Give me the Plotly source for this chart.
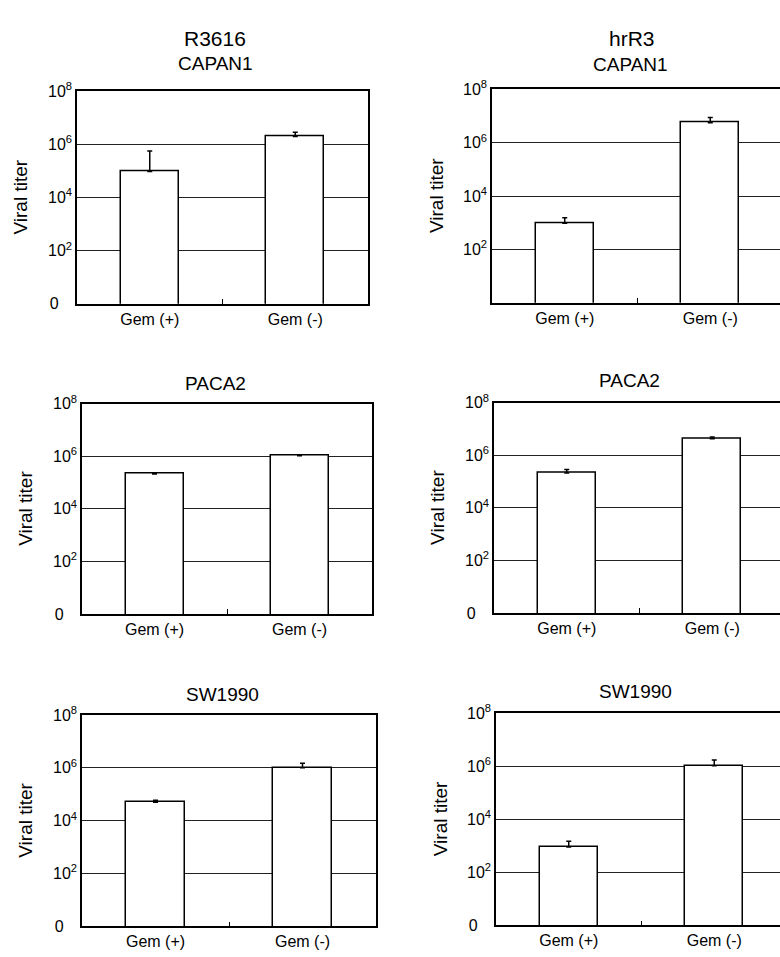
import plotly.graph_objects as go

# ---------------- data ----------------
categories = ["Gem (+)", "Gem (-)"]
virus_names = ["R3616", "hrR3"]
cell_lines = ["CAPAN1", "PACA2", "SW1990"]

ytick_vals = [1, 1e2, 1e4, 1e6, 1e8]
ytick_text = ["0\u00a0\u00a0\u00a0", "10<sup>2</sup>", "10<sup>4</sup>", "10<sup>6</sup>", "10<sup>8</sup>"]
ytick_text_nozero = ["", "10<sup>2</sup>", "10<sup>4</sup>", "10<sup>6</sup>", "10<sup>8</sup>"]

# R3616 (left column)
r3616_capan1 = [9.5e4, 2.0e6]
r3616_capan1_err = [4.75e5, 0.9e6]
r3616_paca2 = [2.1e5, 1.05e6]
r3616_paca2_err = [0.2e5, 0.0]
r3616_sw1990 = [5.0e4, 1.0e6]
r3616_sw1990_err = [1.0e4, 0.5e6]

# hrR3 (right column)
hrr3_capan1 = [9.5e2, 5.6e6]
hrr3_capan1_err = [6.0e2, 3.1e6]
hrr3_paca2 = [2.1e5, 4.2e6]
hrr3_paca2_err = [0.8e5, 0.7e6]
hrr3_sw1990 = [9.0e2, 1.03e6]
hrr3_sw1990_err = [6.0e2, 0.67e6]

# ---------------- layout (pixels) ----------------
W, H = 780, 957
# (left, right, top, bottom) plot boxes in pixels
boxes = [
    (77, 368, 82, 299),    # R3616 CAPAN1
    (492, 783, 80, 298),   # hrR3 CAPAN1
    (82, 372, 401, 616),   # R3616 PACA2
    (494, 785, 400, 615),  # hrR3 PACA2
    (82, 376, 719, 935),   # R3616 SW1990
    (496, 787, 717, 934),  # hrR3 SW1990
]
panel_data = [
    (r3616_capan1, r3616_capan1_err),
    (hrr3_capan1, hrr3_capan1_err),
    (r3616_paca2, r3616_paca2_err),
    (hrr3_paca2, hrr3_paca2_err),
    (r3616_sw1990, r3616_sw1990_err),
    (hrr3_sw1990, hrr3_sw1990_err),
]

FONT = "Liberation Sans, Arial, Helvetica, sans-serif"
xpos = [i + 0.5 for i in range(len(categories))]

fig = go.Figure()
layout_axes = {}
for i, ((vals, errs), (l, r, t, b)) in enumerate(zip(panel_data, boxes)):
    n = i + 1
    sfx = "" if n == 1 else str(n)
    right_col = (i % 2 == 1)
    fig.add_trace(go.Bar(
        x=xpos, y=vals, width=0.4,
        marker=dict(color="white", line=dict(color="black", width=1.5)),
        error_y=dict(type="data", symmetric=False, array=errs,
                     arrayminus=[0] * len(errs), color="black",
                     thickness=1.5, width=2.5),
        xaxis="x" + sfx, yaxis="y" + sfx, showlegend=False,
        hoverinfo="skip",
    ))
    full_w = r - l
    r_clip = min(r, W)
    xmax = 2.0 * (r_clip - l) / full_w
    layout_axes["xaxis" + sfx] = dict(
        domain=[l / W, r_clip / W], range=[0, xmax], anchor="y" + sfx,
        tickmode="array", tickvals=xpos, ticktext=categories, ticks="",
        showgrid=False, zeroline=False, showline=True, linecolor="black",
        linewidth=1.5, mirror=True, fixedrange=True,
        tickfont=dict(family=FONT, size=16, color="black"),
        minor=dict(tickmode="array", tickvals=[1.0], ticks="inside",
                   ticklen=5, tickwidth=1.2, tickcolor="black", showgrid=False),
    )
    layout_axes["yaxis" + sfx] = dict(
        domain=[1 - b / H, 1 - t / H], type="log", range=[0, 8],
        anchor="x" + sfx, tickmode="array", tickvals=ytick_vals,
        ticktext=ytick_text_nozero if i == 1 else ytick_text, ticks="",
        showgrid=True, gridcolor="#222", gridwidth=1, zeroline=False,
        showline=True, linecolor="black", linewidth=1.5,
        mirror=(not right_col), fixedrange=True,
        tickfont=dict(family=FONT, size=16, color="black"),
    )

annotations = []
def txt(x, y, s, size, angle=0):
    annotations.append(dict(
        x=x / W, y=1 - y / H, xref="paper", yref="paper", text=s,
        showarrow=False, xanchor="center", yanchor="middle", textangle=angle,
        font=dict(family=FONT, size=size, color="black")))

# column headers
txt(215, 28, virus_names[0], 21)
txt(632, 28, virus_names[1], 21)
# cell line titles
txt(215, 54, cell_lines[0], 19)
txt(630, 55, cell_lines[0], 19)
txt(215, 380, cell_lines[1], 19)
txt(629, 377, cell_lines[1], 19)
txt(222, 698, cell_lines[2], 19)
txt(635, 695, cell_lines[2], 19)
# y-axis titles
for (l, r, t, b) in boxes:
    txt(l - 56, (t + b) / 2, "Viral titer", 19, angle=-90)

fig.update_layout(
    width=W, height=H, margin=dict(l=0, r=0, t=0, b=0),
    paper_bgcolor="white", plot_bgcolor="white",
    bargap=0, annotations=annotations, showlegend=False,
    font=dict(family=FONT, color="black"),
    **layout_axes,
)

fig.write_html("out.html", config={"displayModeBar": False})
